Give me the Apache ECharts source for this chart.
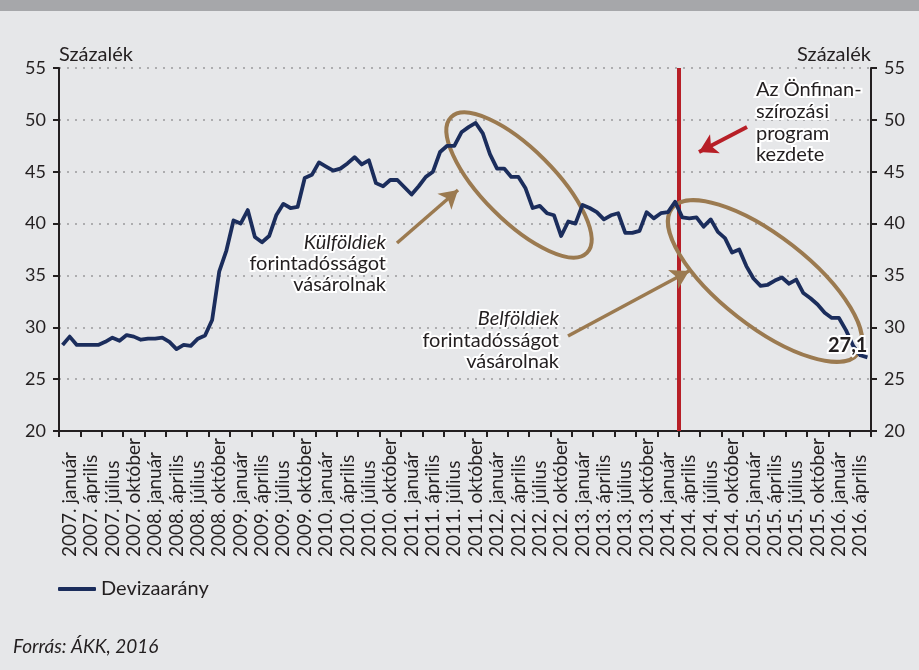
<!DOCTYPE html>
<html>
<head>
<meta charset="utf-8">
<script src="https://cdn.jsdelivr.net/npm/echarts@6/dist/echarts.min.js"></script>
<style>
html, body { margin: 0; padding: 0; background: #e6e7e9; }
#chart { width: 919px; height: 670px; }
</style>
</head>
<body>
<div id="chart"></div>
<script>
// negyedéves tengelyfeliratok (2007. január - 2016. április)
const quarterLabels = [
	'2007. január', '2007. április', '2007. július', '2007. október',
	'2008. január', '2008. április', '2008. július', '2008. október',
	'2009. január', '2009. április', '2009. július', '2009. október',
	'2010. január', '2010. április', '2010. július', '2010. október',
	'2011. január', '2011. április', '2011. július', '2011. október',
	'2012. január', '2012. április', '2012. július', '2012. október',
	'2013. január', '2013. április', '2013. július', '2013. október',
	'2014. január', '2014. április', '2014. július', '2014. október',
	'2015. január', '2015. április', '2015. július', '2015. október',
	'2016. január', '2016. április',
]

// havi devizaarány, százalék (2007. jan - 2016. jún)
const devizaarany = [
	28.3, 29.1, 28.3, 28.3, 28.3, 28.3, 28.6, 29.0, 28.7, 29.25, 29.1, 28.8,
	28.9, 28.9, 29.0, 28.6, 27.9, 28.3, 28.2, 28.9, 29.2, 30.7, 35.4, 37.4,
	40.3, 40.0, 41.3, 38.7, 38.2, 38.8, 40.8, 41.9, 41.5, 41.6, 44.4, 44.7,
	45.9, 45.5, 45.1, 45.3, 45.8, 46.4, 45.7, 46.1, 43.9, 43.6, 44.2, 44.2,
	43.5, 42.8, 43.6, 44.5, 45.0, 46.9, 47.5, 47.5, 48.8, 49.3, 49.7, 48.7,
	46.7, 45.3, 45.3, 44.5, 44.5, 43.4, 41.5, 41.7, 41.0, 40.8, 38.8, 40.2,
	40.0, 41.8, 41.5, 41.1, 40.4, 40.8, 41.0, 39.1, 39.1, 39.3, 41.1, 40.5,
	41.0, 41.1, 42.1, 40.6, 40.5, 40.6, 39.7, 40.4, 39.2, 38.6, 37.2, 37.5,
	35.9, 34.7, 34.0, 34.1, 34.5, 34.8, 34.2, 34.6, 33.3, 32.8, 32.2, 31.4,
	30.9, 30.9, 29.7, 28.2, 27.3, 27.1,
]

// Önfinanszírozási program kezdete: 2014. április (hónap sorszáma 2007. jan-tól)
const programStart = 87

const FONT = 'Lato, "Open Sans", sans-serif'
const TEXT = '#231f20'
const NAVY = '#1b2d5c'
const BROWN = '#9b7a50'
const RED = '#b71f27'

const chart = echarts.init(document.getElementById('chart'))

const haloText = (text, x, y, align, italic) => ({
	type: 'text',
	z: 130,
	style: {
		text: text,
		x: x,
		y: y,
		font: (italic ? 'italic ' : '') + '20px ' + FONT,
		fill: TEXT,
		stroke: '#fff',
		lineWidth: 4,
		align: align,
		verticalAlign: 'middle',
	},
})

const arrow = (x1, y1, x2, y2, color, width) => [
	{ x: x1, y: y1, symbol: 'none', lineStyle: { color: color, width: width, type: 'solid' } },
	{ x: x2, y: y2, symbol: 'arrow', symbolSize: [16, 18], itemStyle: { color: color } },
]

const option = {
	backgroundColor: '#e6e7e9',
	animation: false,
	textStyle: { fontFamily: FONT },
	grid: { left: 59, right: 48, top: 68, bottom: 239, containLabel: false },
	legend: {
		left: 58,
		top: 579,
		padding: 0,
		icon: 'roundRect',
		itemWidth: 38,
		itemHeight: 4,
		textStyle: { fontSize: 20, color: TEXT, fontFamily: FONT },
		data: ['Devizaarány'],
	},
	xAxis: [
		{
			type: 'category',
			data: quarterLabels,
			boundaryGap: true,
			axisLine: { lineStyle: { color: TEXT, width: 2 } },
			axisTick: { show: true, interval: 0, length: 6, lineStyle: { color: TEXT, width: 2 } },
			axisLabel: {
				interval: 0,
				rotate: 90,
				align: 'left',
				verticalAlign: 'middle',
				margin: 126,
				fontSize: 19,
				color: TEXT,
				fontFamily: FONT,
			},
			splitLine: { show: false },
		},
		{ type: 'value', min: 0, max: devizaarany.length, show: false },
	],
	yAxis: [
		{
			type: 'value',
			min: 20,
			max: 55,
			interval: 5,
			position: 'left',
			name: 'Százalék',
			nameLocation: 'end',
			nameGap: 13,
			nameTextStyle: { align: 'left', verticalAlign: 'middle', fontSize: 20, color: TEXT, fontFamily: FONT },
			axisLine: { show: true, lineStyle: { color: TEXT, width: 2 } },
			axisTick: { show: true, length: 6, lineStyle: { color: TEXT, width: 2 } },
			axisLabel: { fontSize: 18, color: TEXT, margin: 13, fontFamily: FONT },
			splitLine: { show: true, lineStyle: { type: [2, 6], color: '#9a9a9c', width: 1.5 } },
		},
		{
			type: 'value',
			min: 20,
			max: 55,
			interval: 5,
			position: 'right',
			name: 'Százalék',
			nameLocation: 'end',
			nameGap: 13,
			nameTextStyle: { align: 'right', verticalAlign: 'middle', fontSize: 20, color: TEXT, fontFamily: FONT },
			axisLine: { show: true, lineStyle: { color: TEXT, width: 2 } },
			axisTick: { show: true, length: 6, lineStyle: { color: TEXT, width: 2 } },
			axisLabel: { fontSize: 18, color: TEXT, margin: 13, fontFamily: FONT },
			splitLine: { show: false },
		},
	],
	series: [
		{
			name: 'Devizaarány',
			type: 'line',
			z: 120,
			xAxisIndex: 1,
			yAxisIndex: 0,
			data: devizaarany.map((v, i) => [i + 0.5, v]),
			showSymbol: false,
			symbol: 'none',
			lineStyle: { color: NAVY, width: 3.8, join: 'round' },
			itemStyle: { color: NAVY },
			endLabel: {
				show: true,
				formatter: p => String(p.value[1]).replace('.', ','),
				align: 'right',
				verticalAlign: 'middle',
				distance: 0,
				offset: [0, -12],
				fontSize: 20,
				fontWeight: 'bold',
				fontFamily: FONT,
				color: TEXT,
				textBorderColor: '#fff',
				textBorderWidth: 4,
			},
			markLine: {
				silent: true,
				animation: false,
				symbol: ['none', 'none'],
				label: { show: false },
				data: [
					{ xAxis: programStart, lineStyle: { color: RED, width: 4, type: 'solid' } },
					arrow(747, 127, 699, 152, RED, 4),
					arrow(397, 243, 458, 190, BROWN, 3.5),
					arrow(568, 336, 689, 271, BROWN, 3.5),
				],
			},
		},
	],
	graphic: [
		{ type: 'rect', z: 100, shape: { x: 0, y: 0, width: 919, height: 11 }, style: { fill: '#a6a7aa' } },
		{
			type: 'ellipse',
			z: 110,
			x: 519,
			y: 185,
			rotation: -Math.PI / 4,
			shape: { cx: 0, cy: 0, rx: 96, ry: 36 },
			style: { fill: null, stroke: BROWN, lineWidth: 4 },
		},
		{
			type: 'ellipse',
			z: 110,
			x: 765,
			y: 281,
			rotation: (-38 * Math.PI) / 180,
			shape: { cx: 0, cy: 0, rx: 118, ry: 45 },
			style: { fill: null, stroke: BROWN, lineWidth: 4 },
		},
		haloText('Külföldiek', 386, 243, 'right', true),
		haloText('forintadósságot', 386, 264, 'right', false),
		haloText('vásárolnak', 386, 285, 'right', false),
		haloText('Belföldiek', 559, 319, 'right', true),
		haloText('forintadósságot', 559, 341, 'right', false),
		haloText('vásárolnak', 559, 362, 'right', false),
		haloText('Az Önfinan-', 756, 90, 'left', false),
		haloText('szírozási', 756, 112, 'left', false),
		haloText('program', 756, 134, 'left', false),
		haloText('kezdete', 756, 155, 'left', false),
		{
			type: 'text',
			z: 100,
			style: {
				text: 'Forrás: ÁKK, 2016',
				x: 13,
				y: 647,
				font: 'italic 19px ' + FONT,
				fill: TEXT,
				verticalAlign: 'middle',
			},
		},
	],
}

chart.setOption(option)
</script>
</body>
</html>
